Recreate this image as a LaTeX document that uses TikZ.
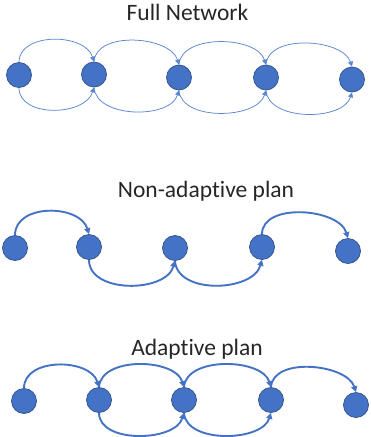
\documentclass[tikz,border=0pt]{standalone}
\usepackage{fontspec}
\setmainfont[Ligatures={NoCommon,NoRare}]{Carlito}
\usetikzlibrary{arrows.meta}
\definecolor{nodefill}{HTML}{4472C4}
\definecolor{nodeedge}{HTML}{2F528F}
\definecolor{thinline}{HTML}{5A86D0}
\definecolor{thickline}{HTML}{4472C4}
\begin{document}
\begin{tikzpicture}[x=1pt,y=-1pt,
  dot/.style={circle,fill=nodefill,draw=nodeedge,line width=0.7pt,minimum size=25pt,inner sep=0pt},
  title/.style={anchor=base,font=\fontsize{23.5}{28}\selectfont,text=black!85,inner sep=0pt},
  thinarrow/.style={draw=thinline,line width=0.75pt,-{Triangle[length=5pt,width=5pt]}},
  thickarrow/.style={draw=thickline,line width=1.9pt,-{Triangle[length=6pt,width=6pt]}}]
\useasboundingbox (0,0) rectangle (371,437);

% Full network
\node[title] (t1) at (187.5,20.5) {Full Network};
\node[dot] (a1) at (19,75) {};
\node[dot] (a2) at (94,74.5) {};
\node[dot] (a3) at (179,77.5) {};
\node[dot] (a4) at (266,77.5) {};
\node[dot] (a5) at (352,79.5) {};
\draw[thinarrow] (a1.north) .. controls +(0,-30) and +(-9,-29) .. (a2.north);
\draw[thinarrow] (a2.north) .. controls +(2,-31) and +(-9,-29) .. (a3.north);
\draw[thinarrow] (a3.north) .. controls +(2,-31) and +(-9,-29) .. (a4.north);
\draw[thinarrow] (a4.north) .. controls +(2,-31) and +(-9,-28) .. (a5.north);
\draw[thinarrow] (a1.south) .. controls +(0,30) and +(-9,29) .. (a2.south);
\draw[thinarrow] (a2.south) .. controls +(2,31) and +(-9,29) .. (a3.south);
\draw[thinarrow] (a3.south) .. controls +(2,31) and +(-9,29) .. (a4.south);
\draw[thinarrow] (a4.south) .. controls +(2,31) and +(-9,29) .. (a5.south);

% Non-adaptive plan
\node[title] (t2) at (206,197.5) {Non-adaptive plan};
\node[dot] (b1) at (15,248) {};
\node[dot] (b2) at (89,247) {};
\node[dot] (b3) at (175,248) {};
\node[dot] (b4) at (262,247) {};
\node[dot] (b5) at (348,251) {};
\draw[thickarrow] (b1.north) .. controls +(0,-32) and +(-9,-30) .. (b2.north);
\draw[thickarrow] (b2.south) .. controls +(0,34) and +(-9,32) .. (b3.south);
\draw[thickarrow] (b3.south) .. controls +(2,34) and +(-9,32) .. (b4.south);
\draw[thickarrow] (b4.north) .. controls +(0,-32) and +(-9,-30) .. (b5.north);

% Adaptive plan
\node[title] (t3) at (197,355.5) {Adaptive plan};
\node[dot] (c1) at (24,401) {};
\node[dot] (c2) at (99,400) {};
\node[dot] (c3) at (184,400) {};
\node[dot] (c4) at (271,400) {};
\node[dot] (c5) at (356,405) {};
\draw[thickarrow] (c1.north) .. controls +(0,-31) and +(-9,-29) .. (c2.north);
\draw[thickarrow] (c2.north) .. controls +(2,-31) and +(-9,-29) .. (c3.north);
\draw[thickarrow] (c3.north) .. controls +(2,-31) and +(-9,-29) .. (c4.north);
\draw[thickarrow] (c4.north) .. controls +(2,-31) and +(-9,-28) .. (c5.north);
\draw[thickarrow] (c2.south) .. controls +(0,31) and +(-9,29) .. (c3.south);
\draw[thickarrow] (c3.south) .. controls +(2,31) and +(-9,29) .. (c4.south);
\end{tikzpicture}
\end{document}
